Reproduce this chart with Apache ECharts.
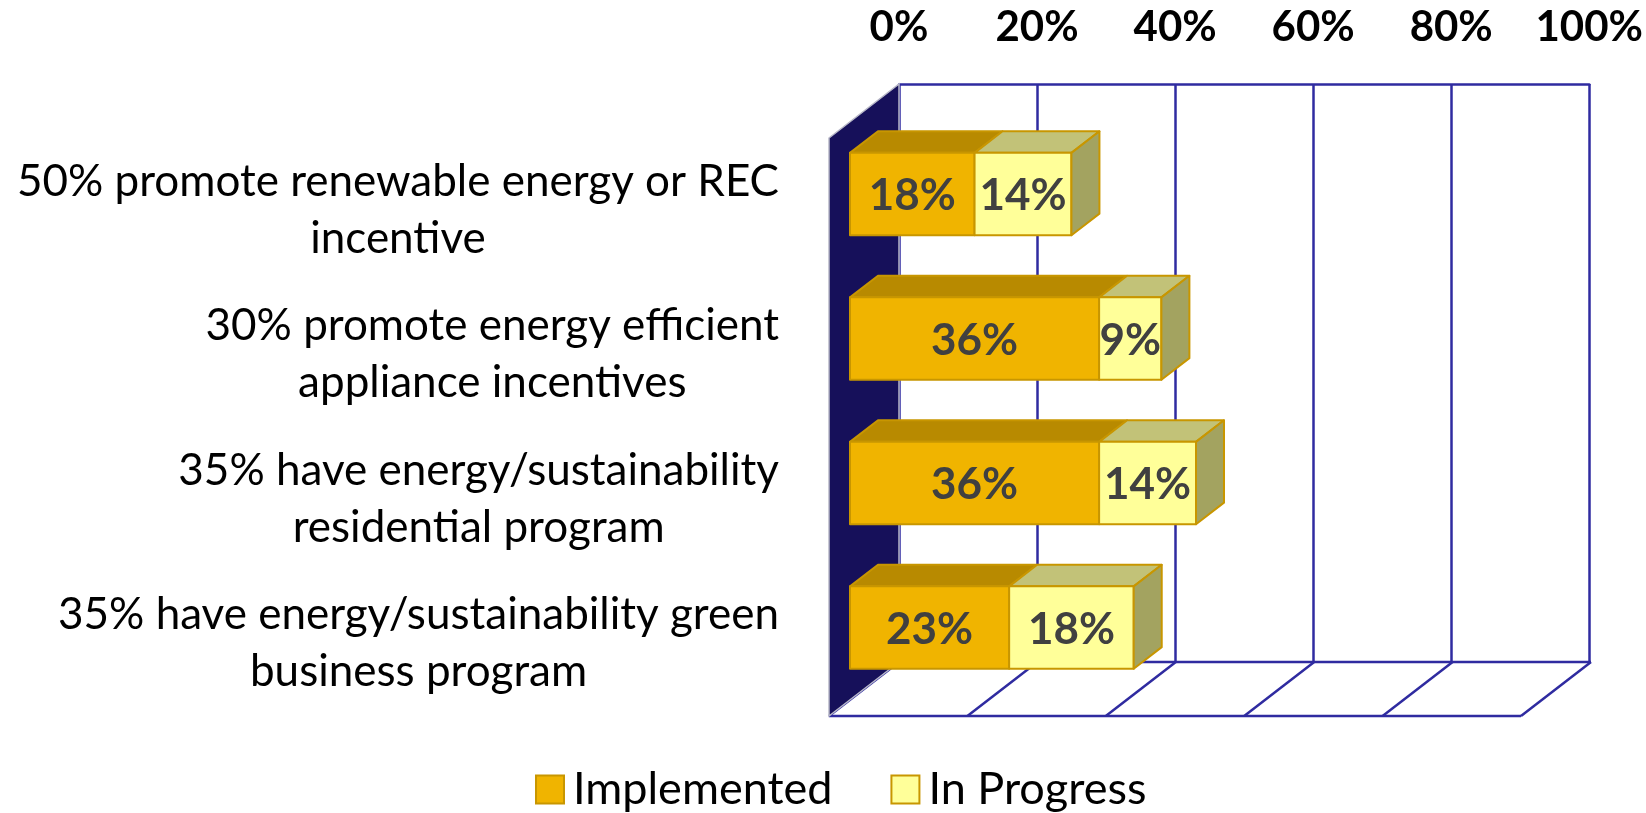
<!DOCTYPE html>
<html lang="en">
<head>
  <meta charset="UTF-8">
  <title>Energy programs</title>
  <script src="https://cdn.jsdelivr.net/npm/echarts@6/dist/echarts.min.js"></script>
</head>
<body style="margin:0">
  <div id="main" style="width:1646px;height:813px"></div>
  <script>
    // data
    var categories = [
      '50% promote renewable energy or REC\nincentive',
      '30% promote energy efficient\nappliance incentives',
      '35% have energy/sustainability\nresidential program',
      '35% have energy/sustainability green\nbusiness program'
    ]
    var implemented = [18, 36, 36, 23]
    var inProgress = [14, 9, 14, 18]
    var xTicks = [0, 20, 40, 60, 80, 100]

    // fake 3d: depth vector of the box, bars sit between FRONT and BACK of it
    var DX = 70, DY = -54
    var FRONT = 0.3, BACK = 0.7
    var BAR_FRAC = 0.57
    var GRID_COLOR = '#2f2ba0'
    var FONT = 'Lato'

    var mCharts = echarts.init(document.getElementById('main'))

    function barItem(params, api, start, end, c, last) {
      var cat = api.value(0)
      var p0 = api.coord([start, cat])
      var p1 = api.coord([end, cat])
      var h = api.size([0, 1])[1] * BAR_FRAC
      var ox = DX * FRONT, oy = DY * FRONT
      var dx = DX * (BACK - FRONT), dy = DY * (BACK - FRONT)
      var x0 = p0[0] + ox, x1 = p1[0] + ox
      var yT = p0[1] - h / 2 + oy, yB = p0[1] + h / 2 + oy
      var line = { stroke: c.border, lineWidth: 2, lineJoin: 'round' }
      var kids = [
        { type: 'polygon', shape: { points: [[x0, yT], [x1, yT], [x1 + dx, yT + dy], [x0 + dx, yT + dy]] },
          style: Object.assign({ fill: c.top }, line) },
        { type: 'rect', shape: { x: x0, y: yT, width: x1 - x0, height: h },
          style: Object.assign({ fill: c.front }, line) }
      ]
      if (last) {
        kids.push({ type: 'polygon', shape: { points: [[x1, yT], [x1 + dx, yT + dy], [x1 + dx, yB + dy], [x1, yB]] },
          style: Object.assign({ fill: c.side }, line) })
      }
      kids.push({ type: 'text', style: {
        text: (end - start) + '%', x: (x0 + x1) / 2, y: (yT + yB) / 2 + 2,
        align: 'center', verticalAlign: 'middle',
        font: 'bold 44px ' + FONT, fill: '#404040'
      } })
      return { type: 'group', children: kids }
    }

    var implColors = { front: '#f0b400', top: '#b88a00', side: '#9c7600', border: '#c89600' }
    var progColors = { front: '#ffff99', top: '#c2c278', side: '#a3a360', border: '#c89600' }

    var option = {
      animation: false,
      grid: [
        { left: 829, top: 138, width: 692, height: 578 },   // front plane
        { left: 899, top: 84, width: 692, height: 578 }     // back wall
      ],
      xAxis: [
        { gridIndex: 0, type: 'value', min: 0, max: 100, show: false },
        {
          gridIndex: 1, type: 'value', position: 'top', min: 0, max: 100, interval: 20,
          axisLine: { show: true, lineStyle: { color: GRID_COLOR, width: 2.5 } },
          axisTick: { show: false },
          splitLine: { show: true, lineStyle: { color: GRID_COLOR, width: 2.5 } },
          axisLabel: {
            formatter: '{value}%', margin: 36, color: '#000',
            fontFamily: FONT, fontWeight: 'bold', fontSize: 42
          }
        }
      ],
      yAxis: [
        {
          gridIndex: 0, type: 'category', data: categories, inverse: true,
          axisLine: { show: false }, axisTick: { show: false },
          axisLabel: {
            margin: 50, align: 'right',
            formatter: function (v) {
              return v.split('\n').map(function (l) { return '{c|' + l + '}' }).join('\n')
            },
            rich: { c: { align: 'center', fontFamily: FONT, fontSize: 44, lineHeight: 57, color: '#000' } }
          }
        },
        { gridIndex: 1, type: 'category', data: categories, show: false }
      ],
      legend: {
        left: 530, top: 762, itemWidth: 28, itemHeight: 28, itemGap: 58,
        icon: 'rect',
        textStyle: { fontFamily: FONT, fontSize: 45, color: '#000', padding: [0, 0, 0, 4] },
        data: [
          { name: 'Implemented', itemStyle: { color: implColors.front, borderColor: implColors.border, borderWidth: 2 } },
          { name: 'In Progress', itemStyle: { color: progColors.front, borderColor: progColors.border, borderWidth: 2 } }
        ]
      },
      series: [
        {
          // left wall + floor
          type: 'custom', xAxisIndex: 0, yAxisIndex: 0, z: 1, silent: true,
          data: xTicks.map(function (t) { return [t] }),
          renderItem: function (params, api) {
            var cs = params.coordSys
            var bottom = cs.y + cs.height
            var x = api.coord([api.value(0), 0])[0]
            var ls = { stroke: GRID_COLOR, lineWidth: 2.5 }
            var kids = [
              { type: 'line', shape: { x1: x, y1: bottom, x2: x + DX, y2: bottom + DY }, style: ls }
            ]
            if (params.dataIndex === 0) {
              kids.push({ type: 'line', shape: { x1: cs.x, y1: bottom, x2: cs.x + cs.width, y2: bottom }, style: ls })
              kids.push({ type: 'line', shape: { x1: cs.x + DX, y1: bottom + DY, x2: cs.x + cs.width + DX, y2: bottom + DY }, style: ls })
              kids.push({ type: 'polygon', z2: 5, shape: { points: [[cs.x, cs.y], [cs.x + DX, cs.y + DY], [cs.x + DX, bottom + DY], [cs.x, bottom]] },
                style: { fill: '#16105a', stroke: '#b8b8c8', lineWidth: 1.5 } })
            }
            return { type: 'group', children: kids }
          }
        },
        {
          name: 'Implemented', type: 'custom', xAxisIndex: 0, yAxisIndex: 0, z: 3,
          itemStyle: { color: implColors.front },
          data: implemented.map(function (v, i) { return [i, v] }),
          renderItem: function (params, api) {
            return barItem(params, api, 0, api.value(1), implColors, false)
          }
        },
        {
          name: 'In Progress', type: 'custom', xAxisIndex: 0, yAxisIndex: 0, z: 4,
          itemStyle: { color: progColors.front },
          data: inProgress.map(function (v, i) { return [i, implemented[i], v] }),
          renderItem: function (params, api) {
            var s = api.value(1)
            return barItem(params, api, s, s + api.value(2), progColors, true)
          }
        }
      ]
    }
    mCharts.setOption(option)
  </script>
</body>
</html>
